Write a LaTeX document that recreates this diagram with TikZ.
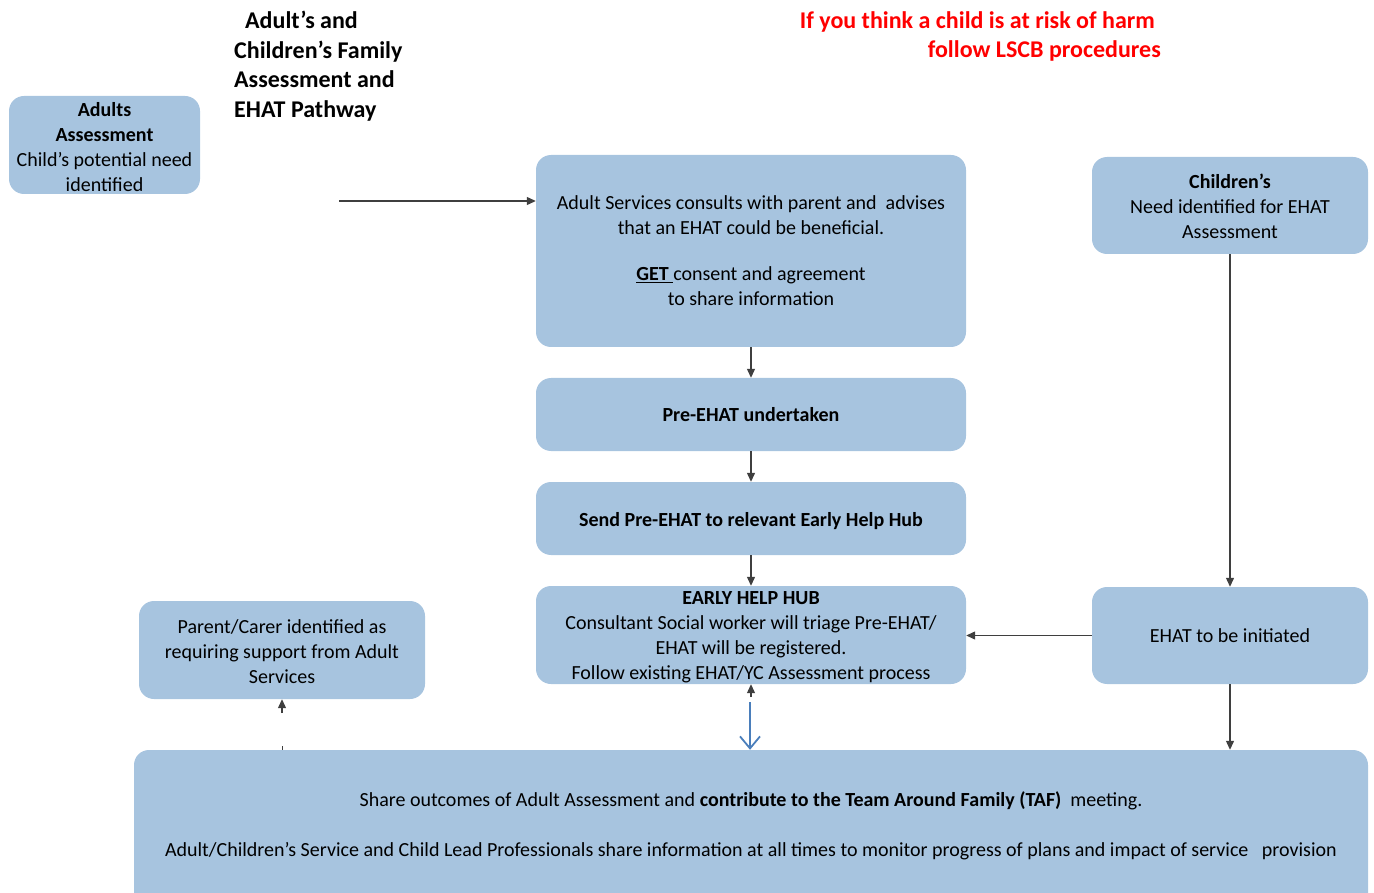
\documentclass[tikz,border=0pt]{standalone}
\usepackage{fontspec}
\setmainfont{Carlito}
\usetikzlibrary{arrows.meta}
\definecolor{boxblue}{HTML}{A7C4DF}
\definecolor{arrowgray}{HTML}{3F3F3F}
\definecolor{bluearrow}{HTML}{4A7EBB}
\definecolor{warnred}{HTML}{FF0000}
\tikzset{
  flowbox/.style={fill=boxblue, draw=none, rounded corners=15pt, align=center, inner sep=0pt,
    font=\fontsize{20}{25}\selectfont},
  arr/.style={draw=arrowgray, line width=1.2pt, -{Triangle[length=9pt,width=8pt]}},
  bluearr/.style={draw=bluearrow, line width=1.8pt, -{Straight Barb[length=12pt,width=20pt,line width=1.8pt]}},
  titletext/.style={font=\fontsize{24}{29.5}\selectfont\bfseries, align=left, inner sep=0pt},
  redtext/.style={font=\fontsize{24}{29.5}\selectfont\bfseries, text=warnred, inner sep=0pt},
  plaintext/.style={font=\fontsize{20}{25}\selectfont, align=center, inner sep=0pt},
}
\begin{document}
\begin{tikzpicture}[x=1pt,y=-1pt]
\useasboundingbox (0,0) rectangle (1374,893);

% title
\node[titletext, anchor=north west] (title) at (234,11)
  {\hspace*{11pt}Adult’s and\\Children’s Family\\Assessment and\\EHAT Pathway};
\node[redtext, anchor=north east] (red1) at (1155,11) {If you think a child is at risk of harm};
\node[redtext, anchor=north east] (red2) at (1161,40.5) {follow LSCB procedures};

% boxes
\node[flowbox, minimum width=191pt, minimum height=98pt] (adults) at (104.5,145)
  {\rule{0pt}{18pt}\textbf{Adults}\\\textbf{Assessment}\\Child’s potential need\\identified};
\node[flowbox, minimum width=430pt, minimum height=192pt] (box1) at (751,251)
  {Adult Services consults with parent and\ \ advises\\that an EHAT could be beneficial.\\[21pt]\underline{\textbf{GET}\ }consent and agreement\\to share information};
\node[flowbox, minimum width=430pt, minimum height=73pt] (pre) at (751,414.5)
  {\textbf{Pre-EHAT undertaken}};
\node[flowbox, minimum width=430pt, minimum height=73pt] (send) at (751,518.5)
  {\rule{0pt}{19pt}\textbf{Send Pre-EHAT to relevant Early Help Hub}};
\node[flowbox, minimum width=430pt, minimum height=98pt] (hub) at (751,635)
  {\rule{0pt}{18pt}\textbf{EARLY HELP HUB}\\Consultant Social worker will triage Pre-EHAT/\\EHAT will be registered.\\Follow existing EHAT/YC Assessment process};
\node[flowbox, minimum width=276pt, minimum height=97pt] (child) at (1230,205.5)
  {\rule{0pt}{17pt}\textbf{Children’s}\\Need identified for EHAT\\Assessment};
\node[flowbox, minimum width=276pt, minimum height=97pt] (ehat) at (1230,635.5)
  {EHAT to be initiated};
\node[flowbox, minimum width=286pt, minimum height=98pt] (parent) at (282,650)
  {\rule{0pt}{18pt}Parent/Carer identified as\\requiring support from Adult\\Services};
\node[flowbox, minimum width=1234pt, minimum height=170pt] (bottom) at (751,835) {};
\node[plaintext] (bottomtext) at (751,826)
  {Share outcomes of Adult Assessment and \textbf{contribute to the Team Around Family (TAF)}\ \ meeting.\\[25pt]
   Adult/Children’s Service and Child Lead Professionals share information at all times to monitor progress of plans and impact of service\ \ \ provision};

% connectors
\coordinate (start) at (339,201);
\draw[arr] (start) -- (start -| box1.west);
\draw[arr] (box1.south) -- (pre.north);
\draw[arr] (pre.south) -- (send.north);
\draw[arr] (send.south) -- (hub.north);
\draw[arr] (child.south) -- (ehat.north);
\draw[arr] (ehat.west) -- (ehat.west -| hub.east);
\draw[arr] (ehat.south) -- (ehat.south |- bottom.north);
\coordinate (hubtip) at (751,697);
\draw[arr] (hubtip) -- (hub.south);
\coordinate (bluestart) at (750,702);
\draw[bluearr] (bluestart) -- (bluestart |- bottom.north);
\coordinate (partip) at (282,713);
\draw[arr] (partip) -- (parent.south);
\coordinate (tick) at (282,746);
\draw[draw=arrowgray, line width=0.8pt] (tick) -- (tick |- bottom.north);
\end{tikzpicture}
\end{document}
